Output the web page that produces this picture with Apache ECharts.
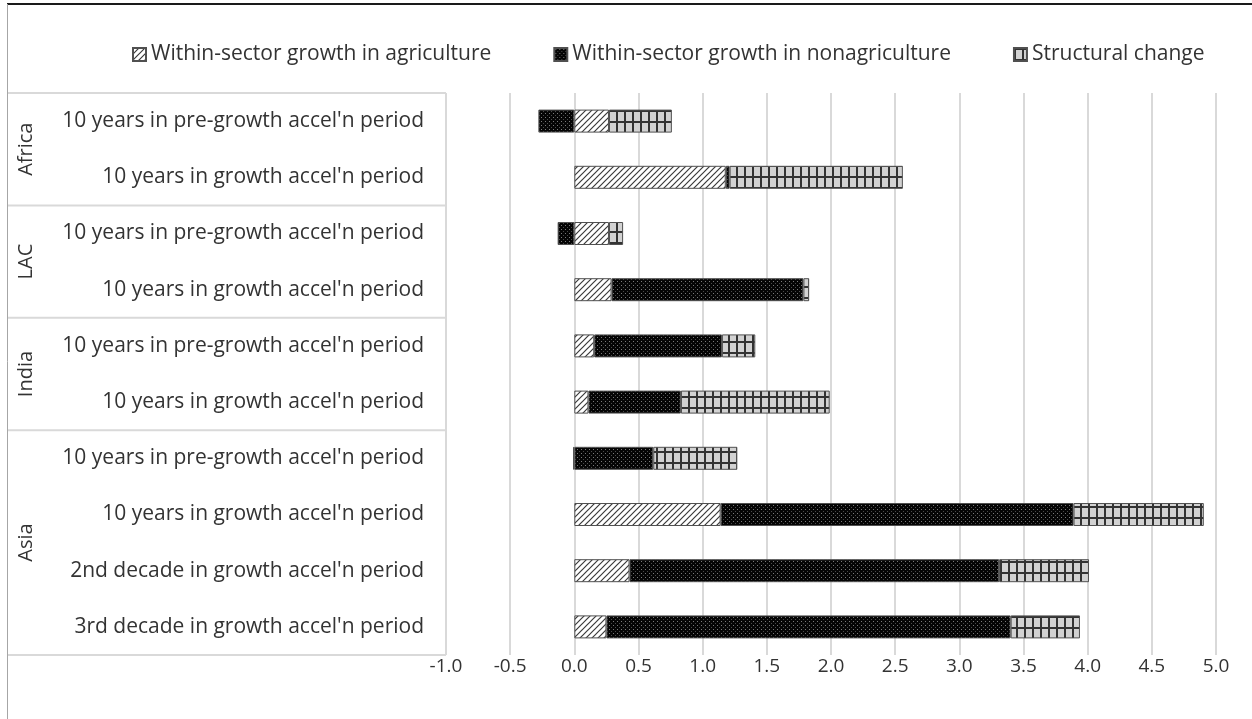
<!DOCTYPE html>
<html>
<head>
<meta charset="utf-8">
<script src="https://cdn.jsdelivr.net/npm/echarts@6/dist/echarts.min.js"></script>
<style>
html,body{margin:0;padding:0;background:#fff;}
#c{width:1252px;height:719px;}
</style>
</head>
<body>
<div id="c"></div>
<script>
// ---- data ----
var categories = [
  "10 years in pre-growth accel'n period",
  "10 years in growth accel'n period",
  "10 years in pre-growth accel'n period",
  "10 years in growth accel'n period",
  "10 years in pre-growth accel'n period",
  "10 years in growth accel'n period",
  "10 years in pre-growth accel'n period",
  "10 years in growth accel'n period",
  "2nd decade in growth accel'n period",
  "3rd decade in growth accel'n period"
];
var groupNames = ["Africa", "LAC", "India", "Asia"];
var groupSizes = [2, 2, 2, 4];
var seriesNames = ["Within-sector growth in agriculture", "Within-sector growth in nonagriculture", "Structural change"];
var agriculture    = [0.27, 1.18, 0.27, 0.29, 0.155, 0.11, -0.01, 1.14, 0.43, 0.25];
var nonagriculture = [-0.28, 0.03, -0.13, 1.495, 0.995, 0.72, 0.615, 2.75, 2.88, 3.15];
var structural     = [0.49, 1.35, 0.11, 0.045, 0.26, 1.16, 0.655, 1.015, 0.70, 0.54];
var xTicks = { min: -1, max: 5, interval: 0.5 };

// ---- patterns ----
function mk(w, h, draw) {
  var c = document.createElement('canvas'); c.width = w; c.height = h;
  draw(c.getContext('2d'), w, h); return c;
}
var hatch = mk(6, 6, function (g, w, h) {
  g.fillStyle = '#ffffff'; g.fillRect(0, 0, w, h);
  g.strokeStyle = '#3a3a3a'; g.lineWidth = 1.2;
  g.beginPath();
  g.moveTo(0, h); g.lineTo(w, 0);
  g.moveTo(-w / 2, h / 2); g.lineTo(w / 2, -h / 2);
  g.moveTo(w / 2, h * 1.5); g.lineTo(w * 1.5, h / 2);
  g.stroke();
});
var dots = mk(4, 4, function (g, w, h) {
  g.fillStyle = '#050505'; g.fillRect(0, 0, w, h);
  g.fillStyle = '#7a7a7a'; g.fillRect(1, 1, 1, 1);
  g.fillStyle = '#4a4a4a'; g.fillRect(3, 3, 1, 1);
});
var grid = mk(8, 11, function (g, w, h) {
  g.fillStyle = '#d2d2d2'; g.fillRect(0, 0, w, h);
  g.fillStyle = '#333333';
  g.fillRect(0, 0, 2, h);
  g.fillRect(0, 0, w, 2);
});
var patterns = [hatch, dots, grid];
var dataArr = [agriculture, nonagriculture, structural];

var chart = echarts.init(document.getElementById('c'));
var FONT = 'Open Sans';
var TXT = '#333333';
var option = {
  animation: false,
  backgroundColor: '#ffffff',
  textStyle: { fontFamily: FONT },
  legend: {
    top: 39, left: 127,
    itemWidth: 13, itemHeight: 13, itemGap: 62,
    icon: 'rect',
    textStyle: { fontFamily: FONT, fontSize: 21, color: TXT },
    data: seriesNames
  },
  grid: { left: 446, right: 36, top: 93, bottom: 64 },
  xAxis: {
    type: 'value', min: xTicks.min, max: xTicks.max, interval: xTicks.interval,
    axisLine: { show: false }, axisTick: { show: false },
    splitLine: { show: true, lineStyle: { color: '#d9d9d9', width: 2 } },
    axisLabel: { fontFamily: FONT, fontSize: 19, color: TXT, margin: 2,
      formatter: function (v) { return v.toFixed(1); } }
  },
  yAxis: {
    type: 'category', inverse: true, data: categories,
    axisLine: { show: false }, axisTick: { show: false }, splitLine: { show: false },
    axisLabel: { fontFamily: FONT, fontSize: 21, color: TXT, margin: 22 }
  },
  series: seriesNames.map(function (n, i) {
    return {
      name: n, type: 'bar', stack: 'total', barWidth: 23,
      itemStyle: { color: { image: patterns[i], repeat: 'repeat' }, borderColor: '#505050', borderWidth: 1 },
      data: dataArr[i]
    };
  })
};
chart.setOption(option);

// ---- group boxes and labels from axis positions ----
var y0 = chart.convertToPixel({ yAxisIndex: 0 }, 0);
var y1 = chart.convertToPixel({ yAxisIndex: 0 }, 1);
var band = y1 - y0;
var boxLeft = 7;
var boxRight = chart.convertToPixel({ xAxisIndex: 0 }, xTicks.min);
var els = [];
var idx = 0;
var topY = y0 - band / 2;
els.push({ type: 'line', shape: { x1: boxLeft, y1: topY, x2: boxRight, y2: topY }, style: { stroke: '#d9d9d9', lineWidth: 2 } });
groupSizes.forEach(function (s, gi) {
  var a = chart.convertToPixel({ yAxisIndex: 0 }, idx) - band / 2;
  var b = chart.convertToPixel({ yAxisIndex: 0 }, idx + s - 1) + band / 2;
  els.push({ type: 'line', shape: { x1: boxLeft, y1: b, x2: boxRight, y2: b }, style: { stroke: '#d9d9d9', lineWidth: 2 } });
  els.push({ type: 'text', x: 26, y: (a + b) / 2, rotation: Math.PI / 2,
    style: { text: groupNames[gi], fontFamily: FONT, fontSize: 20, fill: TXT, align: 'center', verticalAlign: 'middle' } });
  idx += s;
});
els.push({ type: 'line', shape: { x1: 7, y1: 4, x2: 1252, y2: 4 }, style: { stroke: '#1a1a1a', lineWidth: 2 } });
els.push({ type: 'line', shape: { x1: 7.5, y1: 4, x2: 7.5, y2: 719 }, style: { stroke: '#a6a6a6', lineWidth: 1 } });
chart.setOption({ graphic: { elements: els } });
</script>
</body>
</html>
